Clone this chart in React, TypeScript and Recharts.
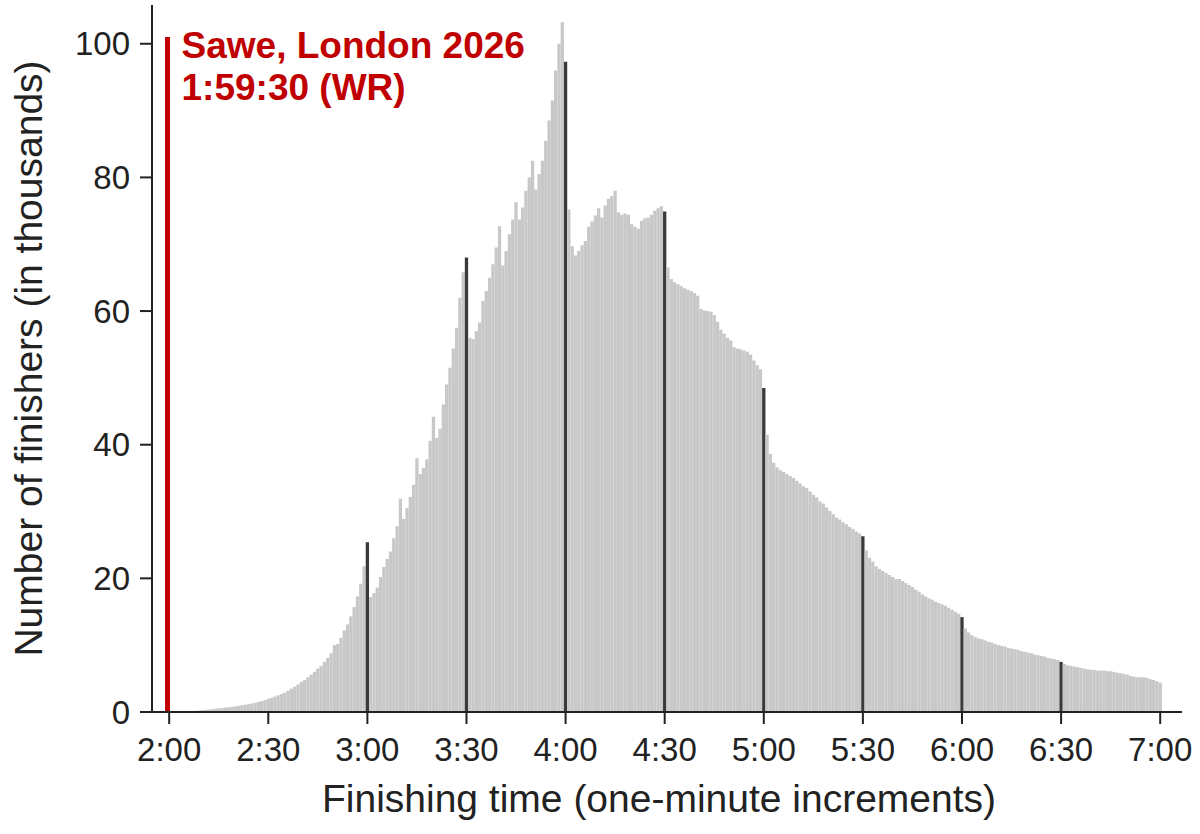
import React from "react";
import { BarChart, Bar, Cell, XAxis, YAxis, ReferenceLine } from "recharts";

// finishers per one-minute bin, in thousands
const from200 = [
  0.05, 0.05, 0.06, 0.07, 0.08, 0.1, 0.12, 0.15, 0.18, 0.22,
  0.27, 0.32, 0.37, 0.42, 0.48, 0.54, 0.6, 0.66, 0.72, 0.78,
  0.85, 0.92, 1.0, 1.08, 1.17, 1.27, 1.38, 1.5, 1.63, 1.78,
];
const from230 = [
  2.0, 2.1, 2.3, 2.5, 2.7, 2.9, 3.2, 3.5, 3.8, 4.1,
  4.5, 4.8, 5.2, 5.6, 6.0, 6.5, 6.9, 7.5, 8.1, 8.8,
  10.0, 10.2, 11.1, 12.2, 13.1, 14.3, 15.7, 17.3, 19.2, 21.8,
];
const from300 = [
  25.4, 17.2, 17.8, 18.6, 20.2, 21.7, 22.9, 24.0, 26.0, 27.8,
  31.9, 28.9, 30.5, 32.2, 34.0, 38.0, 35.6, 36.5, 37.8, 40.6,
  44.2, 41.0, 42.4, 46.0, 49.0, 51.5, 54.4, 57.5, 62.0, 65.8,
];
const from330 = [
  68.0, 56.0, 55.8, 57.0, 58.3, 61.5, 63.0, 65.0, 67.0, 69.5,
  72.7, 66.8, 69.0, 71.5, 73.7, 76.3, 73.7, 75.5, 78.0, 80.0,
  82.5, 78.2, 80.5, 82.5, 85.5, 88.5, 91.5, 96.0, 100.0, 103.2,
];
const from400 = [
  97.3, 75.2, 69.7, 68.3, 69.0, 69.8, 70.5, 72.6, 73.4, 74.3,
  75.4, 74.0, 75.8, 76.8, 77.2, 78.0, 74.8, 74.4, 74.6, 74.4,
  73.0, 72.6, 72.3, 73.5, 73.9, 74.0, 74.4, 75.0, 75.4, 75.7,
];
const from430 = [
  74.9, 66.5, 64.8, 64.3, 64.0, 63.7, 63.4, 63.2, 63.0, 62.7,
  62.3, 60.3, 60.1, 60.0, 59.9, 59.4, 58.4, 57.2, 56.6, 56.0,
  55.6, 54.6, 54.4, 54.3, 54.1, 53.9, 53.5, 52.6, 51.9, 51.3,
];
const from500 = [
  48.5, 41.5, 38.6, 37.3, 36.6, 36.2, 35.9, 35.6, 35.3, 35.0,
  34.6, 34.2, 33.8, 33.5, 33.0, 32.5, 32.1, 31.5, 31.2, 30.6,
  30.1, 29.6, 29.1, 28.8, 28.4, 28.1, 27.7, 27.4, 27.0, 26.7,
];
const from530 = [
  26.3, 24.2, 23.1, 22.5, 21.8, 21.4, 21.1, 20.8, 20.5, 20.2,
  19.9, 19.9, 19.6, 19.3, 19.0, 18.7, 18.3, 18.0, 17.6, 17.3,
  17.0, 16.8, 16.5, 16.3, 16.1, 15.9, 15.6, 15.3, 15.0, 14.7,
];
const from600 = [
  14.2, 12.5, 11.9, 11.5, 11.2, 11.0, 10.9, 10.7, 10.5, 10.4,
  10.2, 10.0, 9.9, 9.8, 9.6, 9.5, 9.4, 9.3, 9.1, 9.0,
  8.9, 8.8, 8.6, 8.5, 8.4, 8.3, 8.1, 8.0, 7.9, 7.8,
];
const from630 = [
  7.5, 7.2, 7.0, 6.9, 6.8, 6.7, 6.6, 6.5, 6.4, 6.3,
  6.3, 6.2, 6.2, 6.2, 6.1, 6.1, 6.0, 5.9, 5.8, 5.7,
  5.6, 5.4, 5.3, 5.2, 5.2, 5.2, 5.1, 4.9, 4.8, 4.6,
  4.4,
];

const firstMinute = 120; // 2:00
const halfHourMarks = [180, 210, 240, 270, 300, 330, 360, 390];
const xTicks = [120, 150, 180, 210, 240, 270, 300, 330, 360, 390, 420];
const yTicks = [0, 20, 40, 60, 80, 100];
const recordMinute = 119.5; // 1:59:30
const recordLineTop = 101;

const values = [
  ...from200, ...from230, ...from300, ...from330, ...from400,
  ...from430, ...from500, ...from530, ...from600, ...from630,
];
const data = values.map((v, i) => ({ minute: firstMinute + i, value: v }));

const fmtTime = (m: number) => `${Math.floor(m / 60)}:${String(m % 60).padStart(2, "0")}`;

const RED = "#c00000";
const INK = "#222";
const FONT = "'Liberation Sans', Arial, sans-serif";

const RecordLabel = (props: any) => {
  const vb = props.viewBox || {};
  const x = (vb.x ?? 0) + 14;
  const y = vb.y ?? 0;
  return (
    <g>
      <text x={x} y={y + 21} fill={RED} fontSize={37} fontWeight={700} fontFamily={FONT}>
        Sawe, London 2026
      </text>
      <text x={x} y={y + 63} fill={RED} fontSize={37} fontWeight={700} fontFamily={FONT}>
        1:59:30 (WR)
      </text>
    </g>
  );
};

export default function App() {
  return (
    <div style={{ position: "absolute", left: 0, top: 0, width: 1200, height: 834, background: "#fff" }}>
      <BarChart
        width={1200}
        height={834}
        data={data}
        margin={{ top: 5, right: 18, bottom: 0, left: 0 }}
        barCategoryGap={0}
      >
        <XAxis
          type="number"
          dataKey="minute"
          domain={[114.8, 426.6]}
          ticks={xTicks}
          tickFormatter={fmtTime}
          height={122}
          tickSize={12}
          tickMargin={14}
          axisLine={{ stroke: INK, strokeWidth: 2 }}
          tickLine={{ stroke: INK, strokeWidth: 2 }}
          tick={{ fill: INK, fontSize: 33, fontFamily: FONT }}
          label={{
            value: "Finishing time (one-minute increments)",
            position: "insideBottom",
            offset: 22,
            dx: -8,
            fill: INK,
            fontSize: 39,
            fontFamily: FONT,
          }}
        />
        <YAxis
          type="number"
          domain={[0, 105.8]}
          ticks={yTicks}
          width={152}
          tickSize={12}
          tickMargin={10}
          axisLine={{ stroke: INK, strokeWidth: 2 }}
          tickLine={{ stroke: INK, strokeWidth: 2 }}
          tick={{ fill: INK, fontSize: 33, fontFamily: FONT }}
          label={{
            value: "Number of finishers (in thousands)",
            angle: -90,
            position: "insideLeft",
            offset: 28,
            fill: INK,
            fontSize: 39,
            fontFamily: FONT,
            style: { textAnchor: "middle" },
          }}
        />
        <Bar dataKey="value" barSize={3.3} isAnimationActive={false}>
          {data.map((d) => (
            <Cell key={d.minute} fill={halfHourMarks.includes(d.minute) ? "#3a3a3a" : "#c8c8c8"} />
          ))}
        </Bar>
        <ReferenceLine
          segment={[
            { x: recordMinute, y: 0 },
            { x: recordMinute, y: recordLineTop },
          ]}
          stroke={RED}
          strokeWidth={5}
          ifOverflow="visible"
          label={{ content: RecordLabel }}
        />
      </BarChart>
    </div>
  );
}
